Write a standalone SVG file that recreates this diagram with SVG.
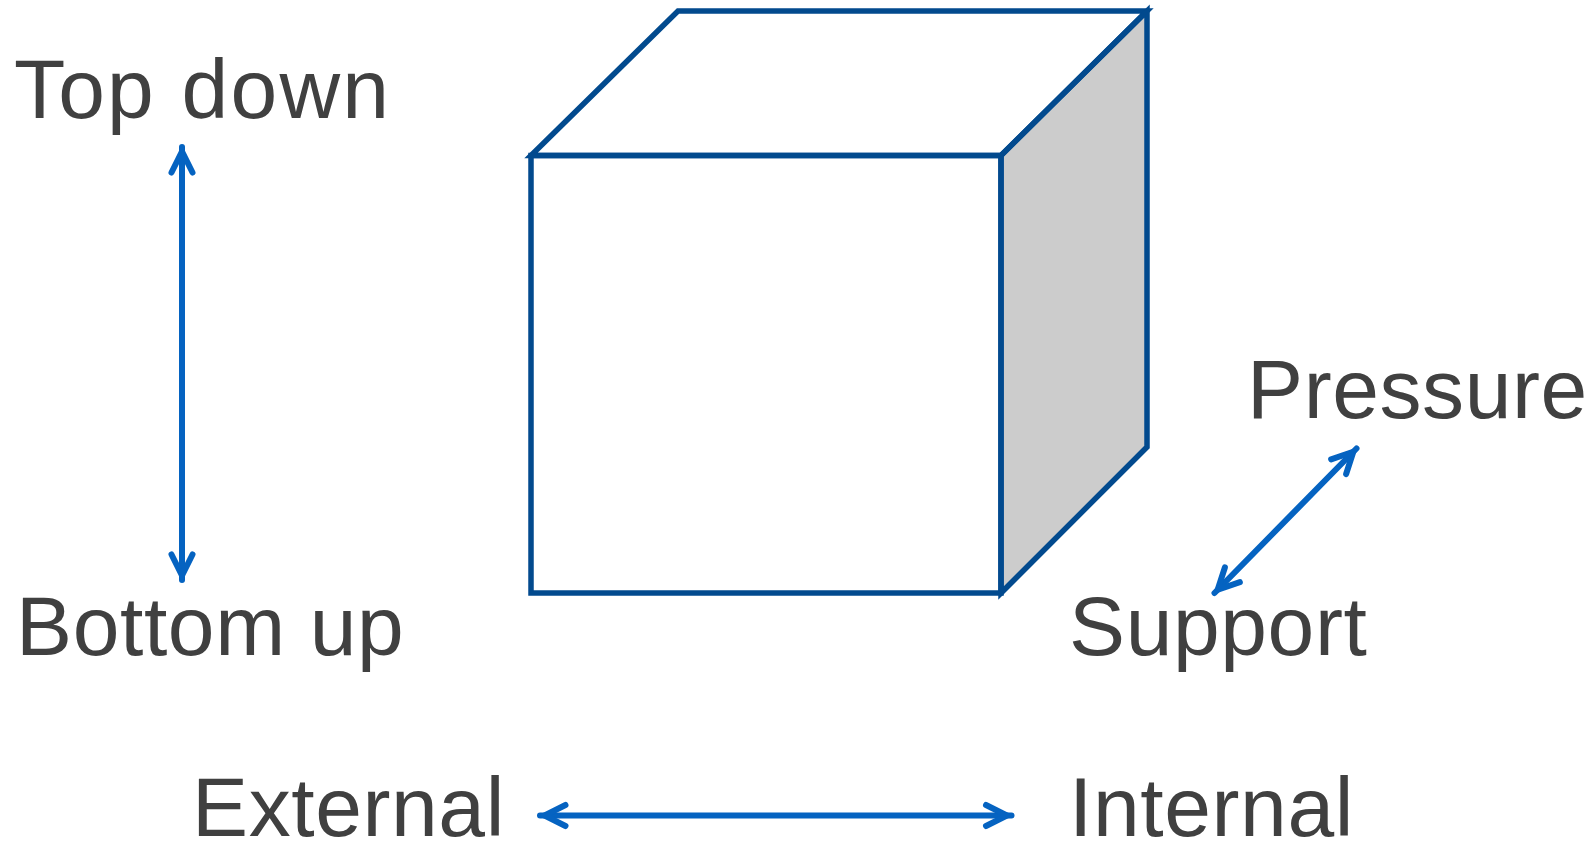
<svg xmlns="http://www.w3.org/2000/svg" width="1593" height="842" viewBox="0 0 1593 842">
<style>
.lbl{font-family:"Liberation Sans",Arial,sans-serif;font-size:84px;fill:#404040;letter-spacing:0.6px}
.edge{fill:none;stroke:#024A8E;stroke-width:5.5;stroke-linejoin:miter}
.conn{fill:none;stroke:#0563C1;stroke-width:6;stroke-linecap:round;stroke-linejoin:round}
</style>
<defs>
<marker id="ah" viewBox="0 0 24 20" refX="21" refY="10" markerWidth="6" markerHeight="5" markerUnits="strokeWidth" orient="auto-start-reverse" overflow="visible">
<path d="M4,3 L18,10 L4,17" fill="none" stroke="#0563C1" stroke-width="4" stroke-linecap="round" stroke-linejoin="miter" stroke-miterlimit="10"/>
</marker>
</defs>
<rect width="1593" height="842" fill="#fff"/>
<g id="cube">
<polygon points="1001,155.5 1147,11 1147,447 1001,593" fill="#CCCCCC"/>
<polygon class="edge" points="531,155.5 678,11 1147,11 1001,155.5" fill="#fff"/>
<polygon class="edge" points="1001,155.5 1147,11 1147,447 1001,593"/>
<rect class="edge" x="531" y="155.5" width="470" height="437.5" fill="#fff"/>
</g>
<g id="top-down"><text class="lbl" x="14" y="118" style="letter-spacing:2.2px">Top down</text></g>
<g id="bottom-up"><text class="lbl" x="16" y="655">Bottom up</text></g>
<g id="pressure"><text class="lbl" x="1247" y="418">Pressure</text></g>
<g id="support"><text class="lbl" x="1069" y="655">Support</text></g>
<g id="external"><text class="lbl" x="192" y="836">External</text></g>
<g id="internal"><text class="lbl" x="1069" y="836">Internal</text></g>
<g id="connectors">
<line class="conn" x1="182" y1="147" x2="182" y2="580" marker-start="url(#ah)" marker-end="url(#ah)"/>
<line class="conn" x1="1214.5" y1="593" x2="1356.5" y2="448.5" marker-start="url(#ah)" marker-end="url(#ah)"/>
<line class="conn" x1="540" y1="815.5" x2="1011.5" y2="815.5" marker-start="url(#ah)" marker-end="url(#ah)"/>
</g>
</svg>
